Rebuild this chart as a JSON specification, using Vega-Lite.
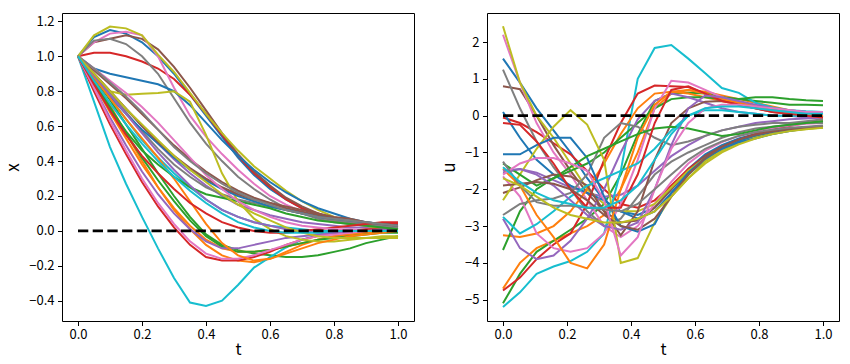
{
"$schema": "https://vega.github.io/schema/vega-lite/v6.json",
"padding": {"left": 4, "top": 12, "right": 5, "bottom": 0},
"spacing": 25,
"config": {
 "view": {"stroke": "black", "strokeWidth": 1},
 "axis": {"grid": false, "domain": false, "ticks": true, "tickColor": "black", "tickSize": 4.5, "labelColor": "black", "labelFont": "Noto Sans CJK SC", "labelFontSize": 13, "labelPadding": 3.5, "labelOverlap": false, "titleFont": "Noto Sans CJK SC", "titleFontSize": 17, "titleFontWeight": "normal", "titleColor": "black", "titlePadding": 6},
 "axisX": {"titlePadding": 0, "labelPadding": 2.5, "titleFontSize": 16}
},
"datasets": {
"zero": [{"t":0,"v":0},{"t":1,"v":0}],
"xs": [
{"s":0,"t":0,"v":1},{"s":0,"t":0.05,"v":1.11},{"s":0,"t":0.1,"v":1.15},{"s":0,"t":0.15,"v":1.13},{"s":0,"t":0.2,"v":1.08},{"s":0,"t":0.25,"v":1.0},{"s":0,"t":0.3,"v":0.9},{"s":0,"t":0.35,"v":0.78},{"s":0,"t":0.4,"v":0.66},{"s":0,"t":0.45,"v":0.54},{"s":0,"t":0.5,"v":0.42},{"s":0,"t":0.55,"v":0.32},{"s":0,"t":0.6,"v":0.24},{"s":0,"t":0.65,"v":0.18},{"s":0,"t":0.7,"v":0.13},{"s":0,"t":0.75,"v":0.09},{"s":0,"t":0.8,"v":0.07},{"s":0,"t":0.85,"v":0.05},{"s":0,"t":0.9,"v":0.03},{"s":0,"t":0.95,"v":0.02},{"s":0,"t":1,"v":0.01},
{"s":1,"t":0,"v":1},{"s":1,"t":0.05,"v":0.88},{"s":1,"t":0.1,"v":0.72},{"s":1,"t":0.15,"v":0.56},{"s":1,"t":0.2,"v":0.4},{"s":1,"t":0.25,"v":0.25},{"s":1,"t":0.3,"v":0.12},{"s":1,"t":0.35,"v":0.01},{"s":1,"t":0.4,"v":-0.08},{"s":1,"t":0.45,"v":-0.14},{"s":1,"t":0.5,"v":-0.17},{"s":1,"t":0.55,"v":-0.18},{"s":1,"t":0.6,"v":-0.16},{"s":1,"t":0.65,"v":-0.12},{"s":1,"t":0.7,"v":-0.08},{"s":1,"t":0.75,"v":-0.05},{"s":1,"t":0.8,"v":-0.03},{"s":1,"t":0.85,"v":-0.02},{"s":1,"t":0.9,"v":-0.01},{"s":1,"t":0.95,"v":0.0},{"s":1,"t":1,"v":0.01},
{"s":2,"t":0,"v":1},{"s":2,"t":0.05,"v":0.88},{"s":2,"t":0.1,"v":0.75},{"s":2,"t":0.15,"v":0.61},{"s":2,"t":0.2,"v":0.47},{"s":2,"t":0.25,"v":0.33},{"s":2,"t":0.3,"v":0.2},{"s":2,"t":0.35,"v":0.08},{"s":2,"t":0.4,"v":-0.02},{"s":2,"t":0.45,"v":-0.08},{"s":2,"t":0.5,"v":-0.11},{"s":2,"t":0.55,"v":-0.13},{"s":2,"t":0.6,"v":-0.14},{"s":2,"t":0.65,"v":-0.15},{"s":2,"t":0.7,"v":-0.15},{"s":2,"t":0.75,"v":-0.14},{"s":2,"t":0.8,"v":-0.12},{"s":2,"t":0.85,"v":-0.1},{"s":2,"t":0.9,"v":-0.07},{"s":2,"t":0.95,"v":-0.05},{"s":2,"t":1,"v":-0.03},
{"s":3,"t":0,"v":1},{"s":3,"t":0.05,"v":1.02},{"s":3,"t":0.1,"v":1.02},{"s":3,"t":0.15,"v":1.0},{"s":3,"t":0.2,"v":0.97},{"s":3,"t":0.25,"v":0.93},{"s":3,"t":0.3,"v":0.87},{"s":3,"t":0.35,"v":0.78},{"s":3,"t":0.4,"v":0.67},{"s":3,"t":0.45,"v":0.55},{"s":3,"t":0.5,"v":0.43},{"s":3,"t":0.55,"v":0.33},{"s":3,"t":0.6,"v":0.25},{"s":3,"t":0.65,"v":0.18},{"s":3,"t":0.7,"v":0.13},{"s":3,"t":0.75,"v":0.1},{"s":3,"t":0.8,"v":0.07},{"s":3,"t":0.85,"v":0.05},{"s":3,"t":0.9,"v":0.04},{"s":3,"t":0.95,"v":0.04},{"s":3,"t":1,"v":0.04},
{"s":4,"t":0,"v":1},{"s":4,"t":0.05,"v":0.9},{"s":4,"t":0.1,"v":0.8},{"s":4,"t":0.15,"v":0.7},{"s":4,"t":0.2,"v":0.6},{"s":4,"t":0.25,"v":0.5},{"s":4,"t":0.3,"v":0.41},{"s":4,"t":0.35,"v":0.33},{"s":4,"t":0.4,"v":0.26},{"s":4,"t":0.45,"v":0.2},{"s":4,"t":0.5,"v":0.15},{"s":4,"t":0.55,"v":0.12},{"s":4,"t":0.6,"v":0.09},{"s":4,"t":0.65,"v":0.07},{"s":4,"t":0.7,"v":0.05},{"s":4,"t":0.75,"v":0.04},{"s":4,"t":0.8,"v":0.03},{"s":4,"t":0.85,"v":0.02},{"s":4,"t":0.9,"v":0.02},{"s":4,"t":0.95,"v":0.01},{"s":4,"t":1,"v":0.01},
{"s":5,"t":0,"v":1},{"s":5,"t":0.05,"v":1.08},{"s":5,"t":0.1,"v":1.1},{"s":5,"t":0.15,"v":1.12},{"s":5,"t":0.2,"v":1.1},{"s":5,"t":0.25,"v":1.04},{"s":5,"t":0.3,"v":0.94},{"s":5,"t":0.35,"v":0.82},{"s":5,"t":0.4,"v":0.69},{"s":5,"t":0.45,"v":0.56},{"s":5,"t":0.5,"v":0.44},{"s":5,"t":0.55,"v":0.34},{"s":5,"t":0.6,"v":0.26},{"s":5,"t":0.65,"v":0.19},{"s":5,"t":0.7,"v":0.14},{"s":5,"t":0.75,"v":0.1},{"s":5,"t":0.8,"v":0.07},{"s":5,"t":0.85,"v":0.05},{"s":5,"t":0.9,"v":0.04},{"s":5,"t":0.95,"v":0.03},{"s":5,"t":1,"v":0.02},
{"s":6,"t":0,"v":1},{"s":6,"t":0.05,"v":1.08},{"s":6,"t":0.1,"v":1.13},{"s":6,"t":0.15,"v":1.14},{"s":6,"t":0.2,"v":1.12},{"s":6,"t":0.25,"v":1.0},{"s":6,"t":0.3,"v":0.82},{"s":6,"t":0.35,"v":0.66},{"s":6,"t":0.4,"v":0.54},{"s":6,"t":0.45,"v":0.44},{"s":6,"t":0.5,"v":0.35},{"s":6,"t":0.55,"v":0.27},{"s":6,"t":0.6,"v":0.2},{"s":6,"t":0.65,"v":0.15},{"s":6,"t":0.7,"v":0.11},{"s":6,"t":0.75,"v":0.08},{"s":6,"t":0.8,"v":0.06},{"s":6,"t":0.85,"v":0.04},{"s":6,"t":0.9,"v":0.03},{"s":6,"t":0.95,"v":0.02},{"s":6,"t":1,"v":0.02},
{"s":7,"t":0,"v":1},{"s":7,"t":0.05,"v":1.09},{"s":7,"t":0.1,"v":1.1},{"s":7,"t":0.15,"v":1.07},{"s":7,"t":0.2,"v":1.0},{"s":7,"t":0.25,"v":0.9},{"s":7,"t":0.3,"v":0.76},{"s":7,"t":0.35,"v":0.62},{"s":7,"t":0.4,"v":0.5},{"s":7,"t":0.45,"v":0.4},{"s":7,"t":0.5,"v":0.31},{"s":7,"t":0.55,"v":0.24},{"s":7,"t":0.6,"v":0.18},{"s":7,"t":0.65,"v":0.13},{"s":7,"t":0.7,"v":0.1},{"s":7,"t":0.75,"v":0.07},{"s":7,"t":0.8,"v":0.05},{"s":7,"t":0.85,"v":0.04},{"s":7,"t":0.9,"v":0.03},{"s":7,"t":0.95,"v":0.02},{"s":7,"t":1,"v":0.02},
{"s":8,"t":0,"v":1},{"s":8,"t":0.05,"v":1.12},{"s":8,"t":0.1,"v":1.17},{"s":8,"t":0.15,"v":1.16},{"s":8,"t":0.2,"v":1.12},{"s":8,"t":0.25,"v":1.01},{"s":8,"t":0.3,"v":0.91},{"s":8,"t":0.35,"v":0.79},{"s":8,"t":0.4,"v":0.67},{"s":8,"t":0.45,"v":0.56},{"s":8,"t":0.5,"v":0.46},{"s":8,"t":0.55,"v":0.37},{"s":8,"t":0.6,"v":0.3},{"s":8,"t":0.65,"v":0.23},{"s":8,"t":0.7,"v":0.17},{"s":8,"t":0.75,"v":0.12},{"s":8,"t":0.8,"v":0.08},{"s":8,"t":0.85,"v":0.05},{"s":8,"t":0.9,"v":0.03},{"s":8,"t":0.95,"v":0.01},{"s":8,"t":1,"v":0.0},
{"s":9,"t":0,"v":1},{"s":9,"t":0.05,"v":0.74},{"s":9,"t":0.1,"v":0.48},{"s":9,"t":0.15,"v":0.27},{"s":9,"t":0.2,"v":0.08},{"s":9,"t":0.25,"v":-0.1},{"s":9,"t":0.3,"v":-0.27},{"s":9,"t":0.35,"v":-0.41},{"s":9,"t":0.4,"v":-0.43},{"s":9,"t":0.45,"v":-0.4},{"s":9,"t":0.5,"v":-0.31},{"s":9,"t":0.55,"v":-0.21},{"s":9,"t":0.6,"v":-0.15},{"s":9,"t":0.65,"v":-0.095},{"s":9,"t":0.7,"v":-0.05},{"s":9,"t":0.75,"v":-0.025},{"s":9,"t":0.8,"v":-0.01},{"s":9,"t":0.85,"v":0.0},{"s":9,"t":0.9,"v":0.0},{"s":9,"t":0.95,"v":0.0},{"s":9,"t":1,"v":0.0},
{"s":10,"t":0,"v":1},{"s":10,"t":0.05,"v":0.93},{"s":10,"t":0.1,"v":0.9},{"s":10,"t":0.15,"v":0.88},{"s":10,"t":0.2,"v":0.86},{"s":10,"t":0.25,"v":0.84},{"s":10,"t":0.3,"v":0.8},{"s":10,"t":0.35,"v":0.72},{"s":10,"t":0.4,"v":0.62},{"s":10,"t":0.45,"v":0.52},{"s":10,"t":0.5,"v":0.43},{"s":10,"t":0.55,"v":0.35},{"s":10,"t":0.6,"v":0.28},{"s":10,"t":0.65,"v":0.22},{"s":10,"t":0.7,"v":0.17},{"s":10,"t":0.75,"v":0.13},{"s":10,"t":0.8,"v":0.1},{"s":10,"t":0.85,"v":0.07},{"s":10,"t":0.9,"v":0.05},{"s":10,"t":0.95,"v":0.04},{"s":10,"t":1,"v":0.03},
{"s":11,"t":0,"v":1},{"s":11,"t":0.05,"v":0.84},{"s":11,"t":0.1,"v":0.68},{"s":11,"t":0.15,"v":0.53},{"s":11,"t":0.2,"v":0.38},{"s":11,"t":0.25,"v":0.25},{"s":11,"t":0.3,"v":0.13},{"s":11,"t":0.35,"v":0.03},{"s":11,"t":0.4,"v":-0.05},{"s":11,"t":0.45,"v":-0.1},{"s":11,"t":0.5,"v":-0.12},{"s":11,"t":0.55,"v":-0.12},{"s":11,"t":0.6,"v":-0.11},{"s":11,"t":0.65,"v":-0.09},{"s":11,"t":0.7,"v":-0.07},{"s":11,"t":0.75,"v":-0.05},{"s":11,"t":0.8,"v":-0.03},{"s":11,"t":0.85,"v":-0.02},{"s":11,"t":0.9,"v":-0.01},{"s":11,"t":0.95,"v":0.0},{"s":11,"t":1,"v":0.0},
{"s":12,"t":0,"v":1},{"s":12,"t":0.05,"v":0.86},{"s":12,"t":0.1,"v":0.71},{"s":12,"t":0.15,"v":0.56},{"s":12,"t":0.2,"v":0.42},{"s":12,"t":0.25,"v":0.29},{"s":12,"t":0.3,"v":0.17},{"s":12,"t":0.35,"v":0.06},{"s":12,"t":0.4,"v":-0.03},{"s":12,"t":0.45,"v":-0.09},{"s":12,"t":0.5,"v":-0.12},{"s":12,"t":0.55,"v":-0.12},{"s":12,"t":0.6,"v":-0.11},{"s":12,"t":0.65,"v":-0.09},{"s":12,"t":0.7,"v":-0.07},{"s":12,"t":0.75,"v":-0.05},{"s":12,"t":0.8,"v":-0.04},{"s":12,"t":0.85,"v":-0.03},{"s":12,"t":0.9,"v":-0.02},{"s":12,"t":0.95,"v":-0.01},{"s":12,"t":1,"v":-0.01},
{"s":13,"t":0,"v":1},{"s":13,"t":0.05,"v":0.8},{"s":13,"t":0.1,"v":0.61},{"s":13,"t":0.15,"v":0.44},{"s":13,"t":0.2,"v":0.28},{"s":13,"t":0.25,"v":0.14},{"s":13,"t":0.3,"v":0.02},{"s":13,"t":0.35,"v":-0.08},{"s":13,"t":0.4,"v":-0.15},{"s":13,"t":0.45,"v":-0.17},{"s":13,"t":0.5,"v":-0.17},{"s":13,"t":0.55,"v":-0.15},{"s":13,"t":0.6,"v":-0.12},{"s":13,"t":0.65,"v":-0.08},{"s":13,"t":0.7,"v":-0.05},{"s":13,"t":0.75,"v":-0.03},{"s":13,"t":0.8,"v":-0.01},{"s":13,"t":0.85,"v":0.0},{"s":13,"t":0.9,"v":0.01},{"s":13,"t":0.95,"v":0.01},{"s":13,"t":1,"v":0.02},
{"s":14,"t":0,"v":1},{"s":14,"t":0.05,"v":0.82},{"s":14,"t":0.1,"v":0.65},{"s":14,"t":0.15,"v":0.49},{"s":14,"t":0.2,"v":0.34},{"s":14,"t":0.25,"v":0.21},{"s":14,"t":0.3,"v":0.1},{"s":14,"t":0.35,"v":0.01},{"s":14,"t":0.4,"v":-0.06},{"s":14,"t":0.45,"v":-0.1},{"s":14,"t":0.5,"v":-0.1},{"s":14,"t":0.55,"v":-0.08},{"s":14,"t":0.6,"v":-0.06},{"s":14,"t":0.65,"v":-0.04},{"s":14,"t":0.7,"v":-0.03},{"s":14,"t":0.75,"v":-0.02},{"s":14,"t":0.8,"v":-0.01},{"s":14,"t":0.85,"v":0.0},{"s":14,"t":0.9,"v":0.0},{"s":14,"t":0.95,"v":0.01},{"s":14,"t":1,"v":0.01},
{"s":15,"t":0,"v":1},{"s":15,"t":0.05,"v":0.92},{"s":15,"t":0.1,"v":0.84},{"s":15,"t":0.15,"v":0.76},{"s":15,"t":0.2,"v":0.67},{"s":15,"t":0.25,"v":0.58},{"s":15,"t":0.3,"v":0.49},{"s":15,"t":0.35,"v":0.41},{"s":15,"t":0.4,"v":0.34},{"s":15,"t":0.45,"v":0.28},{"s":15,"t":0.5,"v":0.23},{"s":15,"t":0.55,"v":0.19},{"s":15,"t":0.6,"v":0.16},{"s":15,"t":0.65,"v":0.13},{"s":15,"t":0.7,"v":0.11},{"s":15,"t":0.75,"v":0.09},{"s":15,"t":0.8,"v":0.07},{"s":15,"t":0.85,"v":0.05},{"s":15,"t":0.9,"v":0.04},{"s":15,"t":0.95,"v":0.03},{"s":15,"t":1,"v":0.02},
{"s":16,"t":0,"v":1},{"s":16,"t":0.05,"v":0.82},{"s":16,"t":0.1,"v":0.63},{"s":16,"t":0.15,"v":0.46},{"s":16,"t":0.2,"v":0.3},{"s":16,"t":0.25,"v":0.16},{"s":16,"t":0.3,"v":0.04},{"s":16,"t":0.35,"v":-0.06},{"s":16,"t":0.4,"v":-0.13},{"s":16,"t":0.45,"v":-0.16},{"s":16,"t":0.5,"v":-0.16},{"s":16,"t":0.55,"v":-0.14},{"s":16,"t":0.6,"v":-0.11},{"s":16,"t":0.65,"v":-0.08},{"s":16,"t":0.7,"v":-0.05},{"s":16,"t":0.75,"v":-0.03},{"s":16,"t":0.8,"v":-0.02},{"s":16,"t":0.85,"v":-0.01},{"s":16,"t":0.9,"v":0.0},{"s":16,"t":0.95,"v":0.0},{"s":16,"t":1,"v":0.0},
{"s":17,"t":0,"v":1},{"s":17,"t":0.05,"v":0.9},{"s":17,"t":0.1,"v":0.79},{"s":17,"t":0.15,"v":0.68},{"s":17,"t":0.2,"v":0.57},{"s":17,"t":0.25,"v":0.47},{"s":17,"t":0.3,"v":0.38},{"s":17,"t":0.35,"v":0.31},{"s":17,"t":0.4,"v":0.25},{"s":17,"t":0.45,"v":0.21},{"s":17,"t":0.5,"v":0.18},{"s":17,"t":0.55,"v":0.16},{"s":17,"t":0.6,"v":0.14},{"s":17,"t":0.65,"v":0.12},{"s":17,"t":0.7,"v":0.1},{"s":17,"t":0.75,"v":0.08},{"s":17,"t":0.8,"v":0.06},{"s":17,"t":0.85,"v":0.05},{"s":17,"t":0.9,"v":0.04},{"s":17,"t":0.95,"v":0.03},{"s":17,"t":1,"v":0.02},
{"s":18,"t":0,"v":1},{"s":18,"t":0.05,"v":0.9},{"s":18,"t":0.1,"v":0.8},{"s":18,"t":0.15,"v":0.78},{"s":18,"t":0.2,"v":0.785},{"s":18,"t":0.25,"v":0.79},{"s":18,"t":0.3,"v":0.8},{"s":18,"t":0.35,"v":0.74},{"s":18,"t":0.4,"v":0.55},{"s":18,"t":0.45,"v":0.33},{"s":18,"t":0.5,"v":0.17},{"s":18,"t":0.55,"v":0.07},{"s":18,"t":0.6,"v":0.01},{"s":18,"t":0.65,"v":-0.03},{"s":18,"t":0.7,"v":-0.05},{"s":18,"t":0.75,"v":-0.06},{"s":18,"t":0.8,"v":-0.06},{"s":18,"t":0.85,"v":-0.05},{"s":18,"t":0.9,"v":-0.04},{"s":18,"t":0.95,"v":-0.03},{"s":18,"t":1,"v":-0.03},
{"s":19,"t":0,"v":1},{"s":19,"t":0.05,"v":0.88},{"s":19,"t":0.1,"v":0.76},{"s":19,"t":0.15,"v":0.64},{"s":19,"t":0.2,"v":0.52},{"s":19,"t":0.25,"v":0.42},{"s":19,"t":0.3,"v":0.33},{"s":19,"t":0.35,"v":0.25},{"s":19,"t":0.4,"v":0.18},{"s":19,"t":0.45,"v":0.12},{"s":19,"t":0.5,"v":0.08},{"s":19,"t":0.55,"v":0.05},{"s":19,"t":0.6,"v":0.03},{"s":19,"t":0.65,"v":0.02},{"s":19,"t":0.7,"v":0.01},{"s":19,"t":0.75,"v":0.0},{"s":19,"t":0.8,"v":0.0},{"s":19,"t":0.85,"v":0.0},{"s":19,"t":0.9,"v":0.0},{"s":19,"t":0.95,"v":0.0},{"s":19,"t":1,"v":0.0},
{"s":20,"t":0,"v":1},{"s":20,"t":0.05,"v":0.88},{"s":20,"t":0.1,"v":0.77},{"s":20,"t":0.15,"v":0.67},{"s":20,"t":0.2,"v":0.58},{"s":20,"t":0.25,"v":0.5},{"s":20,"t":0.3,"v":0.42},{"s":20,"t":0.35,"v":0.35},{"s":20,"t":0.4,"v":0.29},{"s":20,"t":0.45,"v":0.24},{"s":20,"t":0.5,"v":0.2},{"s":20,"t":0.55,"v":0.17},{"s":20,"t":0.6,"v":0.14},{"s":20,"t":0.65,"v":0.12},{"s":20,"t":0.7,"v":0.1},{"s":20,"t":0.75,"v":0.08},{"s":20,"t":0.8,"v":0.07},{"s":20,"t":0.85,"v":0.06},{"s":20,"t":0.9,"v":0.05},{"s":20,"t":0.95,"v":0.04},{"s":20,"t":1,"v":0.03},
{"s":21,"t":0,"v":1},{"s":21,"t":0.05,"v":0.88},{"s":21,"t":0.1,"v":0.76},{"s":21,"t":0.15,"v":0.64},{"s":21,"t":0.2,"v":0.53},{"s":21,"t":0.25,"v":0.42},{"s":21,"t":0.3,"v":0.3},{"s":21,"t":0.35,"v":0.17},{"s":21,"t":0.4,"v":0.04},{"s":21,"t":0.45,"v":-0.07},{"s":21,"t":0.5,"v":-0.14},{"s":21,"t":0.55,"v":-0.17},{"s":21,"t":0.6,"v":-0.16},{"s":21,"t":0.65,"v":-0.13},{"s":21,"t":0.7,"v":-0.1},{"s":21,"t":0.75,"v":-0.07},{"s":21,"t":0.8,"v":-0.05},{"s":21,"t":0.85,"v":-0.03},{"s":21,"t":0.9,"v":-0.02},{"s":21,"t":0.95,"v":-0.01},{"s":21,"t":1,"v":0.0},
{"s":22,"t":0,"v":1},{"s":22,"t":0.05,"v":0.85},{"s":22,"t":0.1,"v":0.7},{"s":22,"t":0.15,"v":0.57},{"s":22,"t":0.2,"v":0.46},{"s":22,"t":0.25,"v":0.38},{"s":22,"t":0.3,"v":0.31},{"s":22,"t":0.35,"v":0.25},{"s":22,"t":0.4,"v":0.21},{"s":22,"t":0.45,"v":0.19},{"s":22,"t":0.5,"v":0.17},{"s":22,"t":0.55,"v":0.15},{"s":22,"t":0.6,"v":0.13},{"s":22,"t":0.65,"v":0.1},{"s":22,"t":0.7,"v":0.08},{"s":22,"t":0.75,"v":0.06},{"s":22,"t":0.8,"v":0.05},{"s":22,"t":0.85,"v":0.04},{"s":22,"t":0.9,"v":0.03},{"s":22,"t":0.95,"v":0.02},{"s":22,"t":1,"v":0.01},
{"s":23,"t":0,"v":1},{"s":23,"t":0.05,"v":0.84},{"s":23,"t":0.1,"v":0.69},{"s":23,"t":0.15,"v":0.55},{"s":23,"t":0.2,"v":0.43},{"s":23,"t":0.25,"v":0.33},{"s":23,"t":0.3,"v":0.24},{"s":23,"t":0.35,"v":0.16},{"s":23,"t":0.4,"v":0.1},{"s":23,"t":0.45,"v":0.05},{"s":23,"t":0.5,"v":0.02},{"s":23,"t":0.55,"v":0.0},{"s":23,"t":0.6,"v":-0.01},{"s":23,"t":0.65,"v":-0.01},{"s":23,"t":0.7,"v":0.0},{"s":23,"t":0.75,"v":0.01},{"s":23,"t":0.8,"v":0.02},{"s":23,"t":0.85,"v":0.03},{"s":23,"t":0.9,"v":0.04},{"s":23,"t":0.95,"v":0.05},{"s":23,"t":1,"v":0.05},
{"s":24,"t":0,"v":1},{"s":24,"t":0.05,"v":0.89},{"s":24,"t":0.1,"v":0.78},{"s":24,"t":0.15,"v":0.67},{"s":24,"t":0.2,"v":0.56},{"s":24,"t":0.25,"v":0.45},{"s":24,"t":0.3,"v":0.35},{"s":24,"t":0.35,"v":0.26},{"s":24,"t":0.4,"v":0.18},{"s":24,"t":0.45,"v":0.12},{"s":24,"t":0.5,"v":0.08},{"s":24,"t":0.55,"v":0.05},{"s":24,"t":0.6,"v":0.03},{"s":24,"t":0.65,"v":0.01},{"s":24,"t":0.7,"v":0.0},{"s":24,"t":0.75,"v":-0.01},{"s":24,"t":0.8,"v":-0.01},{"s":24,"t":0.85,"v":0.0},{"s":24,"t":0.9,"v":0.0},{"s":24,"t":0.95,"v":0.0},{"s":24,"t":1,"v":0.0},
{"s":25,"t":0,"v":1},{"s":25,"t":0.05,"v":0.9},{"s":25,"t":0.1,"v":0.8},{"s":25,"t":0.15,"v":0.7},{"s":25,"t":0.2,"v":0.6},{"s":25,"t":0.25,"v":0.51},{"s":25,"t":0.3,"v":0.43},{"s":25,"t":0.35,"v":0.36},{"s":25,"t":0.4,"v":0.3},{"s":25,"t":0.45,"v":0.25},{"s":25,"t":0.5,"v":0.21},{"s":25,"t":0.55,"v":0.18},{"s":25,"t":0.6,"v":0.16},{"s":25,"t":0.65,"v":0.14},{"s":25,"t":0.7,"v":0.12},{"s":25,"t":0.75,"v":0.1},{"s":25,"t":0.8,"v":0.08},{"s":25,"t":0.85,"v":0.07},{"s":25,"t":0.9,"v":0.05},{"s":25,"t":0.95,"v":0.04},{"s":25,"t":1,"v":0.03},
{"s":26,"t":0,"v":1},{"s":26,"t":0.05,"v":0.93},{"s":26,"t":0.1,"v":0.86},{"s":26,"t":0.15,"v":0.79},{"s":26,"t":0.2,"v":0.71},{"s":26,"t":0.25,"v":0.62},{"s":26,"t":0.3,"v":0.52},{"s":26,"t":0.35,"v":0.42},{"s":26,"t":0.4,"v":0.32},{"s":26,"t":0.45,"v":0.24},{"s":26,"t":0.5,"v":0.17},{"s":26,"t":0.55,"v":0.12},{"s":26,"t":0.6,"v":0.08},{"s":26,"t":0.65,"v":0.05},{"s":26,"t":0.7,"v":0.03},{"s":26,"t":0.75,"v":0.02},{"s":26,"t":0.8,"v":0.01},{"s":26,"t":0.85,"v":0.01},{"s":26,"t":0.9,"v":0.0},{"s":26,"t":0.95,"v":0.0},{"s":26,"t":1,"v":0.0},
{"s":27,"t":0,"v":1},{"s":27,"t":0.05,"v":0.93},{"s":27,"t":0.1,"v":0.85},{"s":27,"t":0.15,"v":0.77},{"s":27,"t":0.2,"v":0.68},{"s":27,"t":0.25,"v":0.58},{"s":27,"t":0.3,"v":0.48},{"s":27,"t":0.35,"v":0.4},{"s":27,"t":0.4,"v":0.33},{"s":27,"t":0.45,"v":0.27},{"s":27,"t":0.5,"v":0.22},{"s":27,"t":0.55,"v":0.18},{"s":27,"t":0.6,"v":0.15},{"s":27,"t":0.65,"v":0.12},{"s":27,"t":0.7,"v":0.1},{"s":27,"t":0.75,"v":0.08},{"s":27,"t":0.8,"v":0.07},{"s":27,"t":0.85,"v":0.06},{"s":27,"t":0.9,"v":0.05},{"s":27,"t":0.95,"v":0.04},{"s":27,"t":1,"v":0.03},
{"s":28,"t":0,"v":1},{"s":28,"t":0.05,"v":0.9},{"s":28,"t":0.1,"v":0.8},{"s":28,"t":0.15,"v":0.7},{"s":28,"t":0.2,"v":0.61},{"s":28,"t":0.25,"v":0.52},{"s":28,"t":0.3,"v":0.43},{"s":28,"t":0.35,"v":0.35},{"s":28,"t":0.4,"v":0.28},{"s":28,"t":0.45,"v":0.21},{"s":28,"t":0.5,"v":0.15},{"s":28,"t":0.55,"v":0.1},{"s":28,"t":0.6,"v":0.06},{"s":28,"t":0.65,"v":0.02},{"s":28,"t":0.7,"v":-0.01},{"s":28,"t":0.75,"v":-0.03},{"s":28,"t":0.8,"v":-0.04},{"s":28,"t":0.85,"v":-0.04},{"s":28,"t":0.9,"v":-0.04},{"s":28,"t":0.95,"v":-0.04},{"s":28,"t":1,"v":-0.04},
{"s":29,"t":0,"v":1},{"s":29,"t":0.05,"v":0.86},{"s":29,"t":0.1,"v":0.73},{"s":29,"t":0.15,"v":0.61},{"s":29,"t":0.2,"v":0.5},{"s":29,"t":0.25,"v":0.4},{"s":29,"t":0.3,"v":0.31},{"s":29,"t":0.35,"v":0.23},{"s":29,"t":0.4,"v":0.16},{"s":29,"t":0.45,"v":0.1},{"s":29,"t":0.5,"v":0.05},{"s":29,"t":0.55,"v":0.02},{"s":29,"t":0.6,"v":0.0},{"s":29,"t":0.65,"v":-0.01},{"s":29,"t":0.7,"v":-0.01},{"s":29,"t":0.75,"v":-0.01},{"s":29,"t":0.8,"v":0.0},{"s":29,"t":0.85,"v":0.0},{"s":29,"t":0.9,"v":0.0},{"s":29,"t":0.95,"v":0.0},{"s":29,"t":1,"v":0.0}
],
"us": [
{"s":0,"t":0,"v":1.55},{"s":0,"t":0.053,"v":0.9},{"s":0,"t":0.105,"v":0.2},{"s":0,"t":0.158,"v":-0.4},{"s":0,"t":0.211,"v":-1.0},{"s":0,"t":0.263,"v":-1.7},{"s":0,"t":0.316,"v":-2.3},{"s":0,"t":0.368,"v":-2.6},{"s":0,"t":0.421,"v":-2.7},{"s":0,"t":0.474,"v":-2.5},{"s":0,"t":0.526,"v":-2.0},{"s":0,"t":0.579,"v":-1.45},{"s":0,"t":0.632,"v":-1.05},{"s":0,"t":0.684,"v":-0.8},{"s":0,"t":0.737,"v":-0.62},{"s":0,"t":0.789,"v":-0.5},{"s":0,"t":0.842,"v":-0.42},{"s":0,"t":0.895,"v":-0.36},{"s":0,"t":0.947,"v":-0.32},{"s":0,"t":1,"v":-0.28},
{"s":1,"t":0,"v":-4.7},{"s":1,"t":0.053,"v":-4.0},{"s":1,"t":0.105,"v":-3.6},{"s":1,"t":0.158,"v":-3.4},{"s":1,"t":0.211,"v":-3.2},{"s":1,"t":0.263,"v":-3.0},{"s":1,"t":0.316,"v":-2.7},{"s":1,"t":0.368,"v":-2.0},{"s":1,"t":0.421,"v":-1.0},{"s":1,"t":0.474,"v":0.2},{"s":1,"t":0.526,"v":0.6},{"s":1,"t":0.579,"v":0.7},{"s":1,"t":0.632,"v":0.65},{"s":1,"t":0.684,"v":0.55},{"s":1,"t":0.737,"v":0.45},{"s":1,"t":0.789,"v":0.35},{"s":1,"t":0.842,"v":0.25},{"s":1,"t":0.895,"v":0.15},{"s":1,"t":0.947,"v":0.1},{"s":1,"t":1,"v":0.05},
{"s":2,"t":0,"v":-5.1},{"s":2,"t":0.053,"v":-4.3},{"s":2,"t":0.105,"v":-3.7},{"s":2,"t":0.158,"v":-3.4},{"s":2,"t":0.211,"v":-3.1},{"s":2,"t":0.263,"v":-2.8},{"s":2,"t":0.316,"v":-2.4},{"s":2,"t":0.368,"v":-1.6},{"s":2,"t":0.421,"v":-0.5},{"s":2,"t":0.474,"v":0.4},{"s":2,"t":0.526,"v":0.6},{"s":2,"t":0.579,"v":0.62},{"s":2,"t":0.632,"v":0.6},{"s":2,"t":0.684,"v":0.5},{"s":2,"t":0.737,"v":0.45},{"s":2,"t":0.789,"v":0.4},{"s":2,"t":0.842,"v":0.35},{"s":2,"t":0.895,"v":0.3},{"s":2,"t":0.947,"v":0.3},{"s":2,"t":1,"v":0.28},
{"s":3,"t":0,"v":-0.05},{"s":3,"t":0.053,"v":-0.2},{"s":3,"t":0.105,"v":-0.45},{"s":3,"t":0.158,"v":-0.75},{"s":3,"t":0.211,"v":-1.05},{"s":3,"t":0.263,"v":-1.5},{"s":3,"t":0.316,"v":-2.0},{"s":3,"t":0.368,"v":-2.4},{"s":3,"t":0.421,"v":-2.5},{"s":3,"t":0.474,"v":-2.3},{"s":3,"t":0.526,"v":-1.9},{"s":3,"t":0.579,"v":-1.45},{"s":3,"t":0.632,"v":-1.1},{"s":3,"t":0.684,"v":-0.85},{"s":3,"t":0.737,"v":-0.65},{"s":3,"t":0.789,"v":-0.5},{"s":3,"t":0.842,"v":-0.38},{"s":3,"t":0.895,"v":-0.28},{"s":3,"t":0.947,"v":-0.2},{"s":3,"t":1,"v":-0.15},
{"s":4,"t":0,"v":-1.55},{"s":4,"t":0.053,"v":-1.45},{"s":4,"t":0.105,"v":-1.55},{"s":4,"t":0.158,"v":-1.75},{"s":4,"t":0.211,"v":-1.95},{"s":4,"t":0.263,"v":-2.1},{"s":4,"t":0.316,"v":-2.2},{"s":4,"t":0.368,"v":-2.15},{"s":4,"t":0.421,"v":-1.9},{"s":4,"t":0.474,"v":-1.5},{"s":4,"t":0.526,"v":-1.1},{"s":4,"t":0.579,"v":-0.8},{"s":4,"t":0.632,"v":-0.55},{"s":4,"t":0.684,"v":-0.4},{"s":4,"t":0.737,"v":-0.3},{"s":4,"t":0.789,"v":-0.2},{"s":4,"t":0.842,"v":-0.15},{"s":4,"t":0.895,"v":-0.1},{"s":4,"t":0.947,"v":-0.08},{"s":4,"t":1,"v":-0.05},
{"s":5,"t":0,"v":0.8},{"s":5,"t":0.053,"v":0.72},{"s":5,"t":0.105,"v":0.0},{"s":5,"t":0.158,"v":-0.8},{"s":5,"t":0.211,"v":-1.5},{"s":5,"t":0.263,"v":-2.1},{"s":5,"t":0.316,"v":-2.6},{"s":5,"t":0.368,"v":-2.9},{"s":5,"t":0.421,"v":-2.85},{"s":5,"t":0.474,"v":-2.5},{"s":5,"t":0.526,"v":-2.0},{"s":5,"t":0.579,"v":-1.5},{"s":5,"t":0.632,"v":-1.1},{"s":5,"t":0.684,"v":-0.85},{"s":5,"t":0.737,"v":-0.65},{"s":5,"t":0.789,"v":-0.52},{"s":5,"t":0.842,"v":-0.45},{"s":5,"t":0.895,"v":-0.38},{"s":5,"t":0.947,"v":-0.33},{"s":5,"t":1,"v":-0.3},
{"s":6,"t":0,"v":2.2},{"s":6,"t":0.053,"v":0.9},{"s":6,"t":0.105,"v":-0.2},{"s":6,"t":0.158,"v":-1.0},{"s":6,"t":0.211,"v":-1.6},{"s":6,"t":0.263,"v":-2.3},{"s":6,"t":0.316,"v":-3.0},{"s":6,"t":0.368,"v":-3.3},{"s":6,"t":0.421,"v":-3.0},{"s":6,"t":0.474,"v":-2.4},{"s":6,"t":0.526,"v":-1.8},{"s":6,"t":0.579,"v":-1.3},{"s":6,"t":0.632,"v":-0.95},{"s":6,"t":0.684,"v":-0.72},{"s":6,"t":0.737,"v":-0.55},{"s":6,"t":0.789,"v":-0.42},{"s":6,"t":0.842,"v":-0.33},{"s":6,"t":0.895,"v":-0.27},{"s":6,"t":0.947,"v":-0.22},{"s":6,"t":1,"v":-0.2},
{"s":7,"t":0,"v":1.25},{"s":7,"t":0.053,"v":0.2},{"s":7,"t":0.105,"v":-0.7},{"s":7,"t":0.158,"v":-1.4},{"s":7,"t":0.211,"v":-2.0},{"s":7,"t":0.263,"v":-2.6},{"s":7,"t":0.316,"v":-3.0},{"s":7,"t":0.368,"v":-2.8},{"s":7,"t":0.421,"v":-2.2},{"s":7,"t":0.474,"v":-1.6},{"s":7,"t":0.526,"v":-1.25},{"s":7,"t":0.579,"v":-1.0},{"s":7,"t":0.632,"v":-0.8},{"s":7,"t":0.684,"v":-0.6},{"s":7,"t":0.737,"v":-0.45},{"s":7,"t":0.789,"v":-0.35},{"s":7,"t":0.842,"v":-0.3},{"s":7,"t":0.895,"v":-0.25},{"s":7,"t":0.947,"v":-0.2},{"s":7,"t":1,"v":-0.2},
{"s":8,"t":0,"v":2.43},{"s":8,"t":0.053,"v":0.9},{"s":8,"t":0.105,"v":0.0},{"s":8,"t":0.158,"v":-0.6},{"s":8,"t":0.211,"v":-1.3},{"s":8,"t":0.263,"v":-2.0},{"s":8,"t":0.316,"v":-2.4},{"s":8,"t":0.368,"v":-2.6},{"s":8,"t":0.421,"v":-2.6},{"s":8,"t":0.474,"v":-2.4},{"s":8,"t":0.526,"v":-1.95},{"s":8,"t":0.579,"v":-1.5},{"s":8,"t":0.632,"v":-1.15},{"s":8,"t":0.684,"v":-0.9},{"s":8,"t":0.737,"v":-0.7},{"s":8,"t":0.789,"v":-0.55},{"s":8,"t":0.842,"v":-0.45},{"s":8,"t":0.895,"v":-0.38},{"s":8,"t":0.947,"v":-0.33},{"s":8,"t":1,"v":-0.28},
{"s":9,"t":0,"v":-5.2},{"s":9,"t":0.053,"v":-4.8},{"s":9,"t":0.105,"v":-4.3},{"s":9,"t":0.158,"v":-4.1},{"s":9,"t":0.211,"v":-3.95},{"s":9,"t":0.263,"v":-3.7},{"s":9,"t":0.316,"v":-3.2},{"s":9,"t":0.368,"v":-1.5},{"s":9,"t":0.421,"v":1.0},{"s":9,"t":0.474,"v":1.84},{"s":9,"t":0.526,"v":1.92},{"s":9,"t":0.579,"v":1.55},{"s":9,"t":0.632,"v":1.15},{"s":9,"t":0.684,"v":0.75},{"s":9,"t":0.737,"v":0.62},{"s":9,"t":0.789,"v":0.35},{"s":9,"t":0.842,"v":0.22},{"s":9,"t":0.895,"v":0.15},{"s":9,"t":0.947,"v":0.12},{"s":9,"t":1,"v":0.1},
{"s":10,"t":0,"v":0.1},{"s":10,"t":0.053,"v":-0.6},{"s":10,"t":0.105,"v":-1.2},{"s":10,"t":0.158,"v":-1.6},{"s":10,"t":0.211,"v":-1.9},{"s":10,"t":0.263,"v":-2.1},{"s":10,"t":0.316,"v":-2.3},{"s":10,"t":0.368,"v":-2.6},{"s":10,"t":0.421,"v":-2.8},{"s":10,"t":0.474,"v":-2.6},{"s":10,"t":0.526,"v":-2.1},{"s":10,"t":0.579,"v":-1.6},{"s":10,"t":0.632,"v":-1.2},{"s":10,"t":0.684,"v":-0.9},{"s":10,"t":0.737,"v":-0.7},{"s":10,"t":0.789,"v":-0.55},{"s":10,"t":0.842,"v":-0.45},{"s":10,"t":0.895,"v":-0.4},{"s":10,"t":0.947,"v":-0.35},{"s":10,"t":1,"v":-0.32},
{"s":11,"t":0,"v":-3.25},{"s":11,"t":0.053,"v":-3.3},{"s":11,"t":0.105,"v":-3.2},{"s":11,"t":0.158,"v":-3.0},{"s":11,"t":0.211,"v":-2.6},{"s":11,"t":0.263,"v":-2.0},{"s":11,"t":0.316,"v":-1.3},{"s":11,"t":0.368,"v":-0.5},{"s":11,"t":0.421,"v":0.2},{"s":11,"t":0.474,"v":0.6},{"s":11,"t":0.526,"v":0.65},{"s":11,"t":0.579,"v":0.6},{"s":11,"t":0.632,"v":0.5},{"s":11,"t":0.684,"v":0.4},{"s":11,"t":0.737,"v":0.3},{"s":11,"t":0.789,"v":0.2},{"s":11,"t":0.842,"v":0.15},{"s":11,"t":0.895,"v":0.1},{"s":11,"t":0.947,"v":0.05},{"s":11,"t":1,"v":0.0},
{"s":12,"t":0,"v":-3.65},{"s":12,"t":0.053,"v":-2.6},{"s":12,"t":0.105,"v":-2.0},{"s":12,"t":0.158,"v":-1.7},{"s":12,"t":0.211,"v":-1.5},{"s":12,"t":0.263,"v":-1.3},{"s":12,"t":0.316,"v":-1.0},{"s":12,"t":0.368,"v":-0.6},{"s":12,"t":0.421,"v":-0.2},{"s":12,"t":0.474,"v":0.2},{"s":12,"t":0.526,"v":0.45},{"s":12,"t":0.579,"v":0.5},{"s":12,"t":0.632,"v":0.5},{"s":12,"t":0.684,"v":0.45},{"s":12,"t":0.737,"v":0.45},{"s":12,"t":0.789,"v":0.5},{"s":12,"t":0.842,"v":0.5},{"s":12,"t":0.895,"v":0.45},{"s":12,"t":0.947,"v":0.42},{"s":12,"t":1,"v":0.4},
{"s":13,"t":0,"v":-4.75},{"s":13,"t":0.053,"v":-4.4},{"s":13,"t":0.105,"v":-3.9},{"s":13,"t":0.158,"v":-3.5},{"s":13,"t":0.211,"v":-3.2},{"s":13,"t":0.263,"v":-2.4},{"s":13,"t":0.316,"v":-1.2},{"s":13,"t":0.368,"v":-0.2},{"s":13,"t":0.421,"v":0.6},{"s":13,"t":0.474,"v":0.82},{"s":13,"t":0.526,"v":0.8},{"s":13,"t":0.579,"v":0.78},{"s":13,"t":0.632,"v":0.6},{"s":13,"t":0.684,"v":0.45},{"s":13,"t":0.737,"v":0.3},{"s":13,"t":0.789,"v":0.2},{"s":13,"t":0.842,"v":0.1},{"s":13,"t":0.895,"v":0.05},{"s":13,"t":0.947,"v":0.0},{"s":13,"t":1,"v":-0.05},
{"s":14,"t":0,"v":-2.8},{"s":14,"t":0.053,"v":-3.6},{"s":14,"t":0.105,"v":-3.9},{"s":14,"t":0.158,"v":-3.8},{"s":14,"t":0.211,"v":-3.4},{"s":14,"t":0.263,"v":-2.8},{"s":14,"t":0.316,"v":-2.0},{"s":14,"t":0.368,"v":-1.0},{"s":14,"t":0.421,"v":-0.1},{"s":14,"t":0.474,"v":0.4},{"s":14,"t":0.526,"v":0.6},{"s":14,"t":0.579,"v":0.5},{"s":14,"t":0.632,"v":0.35},{"s":14,"t":0.684,"v":0.2},{"s":14,"t":0.737,"v":0.1},{"s":14,"t":0.789,"v":0.05},{"s":14,"t":0.842,"v":0.0},{"s":14,"t":0.895,"v":0.0},{"s":14,"t":0.947,"v":-0.05},{"s":14,"t":1,"v":-0.05},
{"s":15,"t":0,"v":-2.1},{"s":15,"t":0.053,"v":-1.95},{"s":15,"t":0.105,"v":-1.75},{"s":15,"t":0.158,"v":-1.6},{"s":15,"t":0.211,"v":-1.65},{"s":15,"t":0.263,"v":-1.9},{"s":15,"t":0.316,"v":-2.6},{"s":15,"t":0.368,"v":-3.25},{"s":15,"t":0.421,"v":-2.6},{"s":15,"t":0.474,"v":-1.2},{"s":15,"t":0.526,"v":-0.2},{"s":15,"t":0.579,"v":0.2},{"s":15,"t":0.632,"v":0.38},{"s":15,"t":0.684,"v":0.4},{"s":15,"t":0.737,"v":0.35},{"s":15,"t":0.789,"v":0.25},{"s":15,"t":0.842,"v":0.18},{"s":15,"t":0.895,"v":0.12},{"s":15,"t":0.947,"v":0.08},{"s":15,"t":1,"v":0.05},
{"s":16,"t":0,"v":-1.65},{"s":16,"t":0.053,"v":-2.2},{"s":16,"t":0.105,"v":-3.2},{"s":16,"t":0.158,"v":-3.6},{"s":16,"t":0.211,"v":-3.7},{"s":16,"t":0.263,"v":-3.6},{"s":16,"t":0.316,"v":-3.2},{"s":16,"t":0.368,"v":-2.4},{"s":16,"t":0.421,"v":-1.2},{"s":16,"t":0.474,"v":0.2},{"s":16,"t":0.526,"v":0.95},{"s":16,"t":0.579,"v":0.9},{"s":16,"t":0.632,"v":0.7},{"s":16,"t":0.684,"v":0.5},{"s":16,"t":0.737,"v":0.35},{"s":16,"t":0.789,"v":0.25},{"s":16,"t":0.842,"v":0.15},{"s":16,"t":0.895,"v":0.05},{"s":16,"t":0.947,"v":0.0},{"s":16,"t":1,"v":-0.05},
{"s":17,"t":0,"v":-2.7},{"s":17,"t":0.053,"v":-2.4},{"s":17,"t":0.105,"v":-2.3},{"s":17,"t":0.158,"v":-2.25},{"s":17,"t":0.211,"v":-2.1},{"s":17,"t":0.263,"v":-1.6},{"s":17,"t":0.316,"v":-0.6},{"s":17,"t":0.368,"v":-0.2},{"s":17,"t":0.421,"v":-0.3},{"s":17,"t":0.474,"v":-0.6},{"s":17,"t":0.526,"v":-0.8},{"s":17,"t":0.579,"v":-0.7},{"s":17,"t":0.632,"v":-0.55},{"s":17,"t":0.684,"v":-0.4},{"s":17,"t":0.737,"v":-0.3},{"s":17,"t":0.789,"v":-0.25},{"s":17,"t":0.842,"v":-0.2},{"s":17,"t":0.895,"v":-0.2},{"s":17,"t":0.947,"v":-0.15},{"s":17,"t":1,"v":-0.1},
{"s":18,"t":0,"v":-2.3},{"s":18,"t":0.053,"v":-1.6},{"s":18,"t":0.105,"v":-0.9},{"s":18,"t":0.158,"v":-0.3},{"s":18,"t":0.211,"v":0.15},{"s":18,"t":0.263,"v":-0.24},{"s":18,"t":0.316,"v":-1.2},{"s":18,"t":0.368,"v":-4.0},{"s":18,"t":0.421,"v":-3.87},{"s":18,"t":0.474,"v":-2.9},{"s":18,"t":0.526,"v":-2.2},{"s":18,"t":0.579,"v":-1.7},{"s":18,"t":0.632,"v":-1.24},{"s":18,"t":0.684,"v":-0.95},{"s":18,"t":0.737,"v":-0.74},{"s":18,"t":0.789,"v":-0.6},{"s":18,"t":0.842,"v":-0.5},{"s":18,"t":0.895,"v":-0.42},{"s":18,"t":0.947,"v":-0.36},{"s":18,"t":1,"v":-0.32},
{"s":19,"t":0,"v":-2.75},{"s":19,"t":0.053,"v":-3.2},{"s":19,"t":0.105,"v":-2.95},{"s":19,"t":0.158,"v":-2.6},{"s":19,"t":0.211,"v":-2.2},{"s":19,"t":0.263,"v":-1.9},{"s":19,"t":0.316,"v":-1.7},{"s":19,"t":0.368,"v":-1.5},{"s":19,"t":0.421,"v":-1.3},{"s":19,"t":0.474,"v":-0.9},{"s":19,"t":0.526,"v":-0.4},{"s":19,"t":0.579,"v":0.0},{"s":19,"t":0.632,"v":0.15},{"s":19,"t":0.684,"v":0.15},{"s":19,"t":0.737,"v":0.1},{"s":19,"t":0.789,"v":0.05},{"s":19,"t":0.842,"v":0.0},{"s":19,"t":0.895,"v":0.0},{"s":19,"t":0.947,"v":0.0},{"s":19,"t":1,"v":0.0},
{"s":20,"t":0,"v":-1.05},{"s":20,"t":0.053,"v":-1.05},{"s":20,"t":0.105,"v":-0.8},{"s":20,"t":0.158,"v":-0.6},{"s":20,"t":0.211,"v":-0.6},{"s":20,"t":0.263,"v":-1.15},{"s":20,"t":0.316,"v":-2.2},{"s":20,"t":0.368,"v":-3.0},{"s":20,"t":0.421,"v":-3.15},{"s":20,"t":0.474,"v":-2.95},{"s":20,"t":0.526,"v":-2.1},{"s":20,"t":0.579,"v":-1.55},{"s":20,"t":0.632,"v":-1.15},{"s":20,"t":0.684,"v":-0.9},{"s":20,"t":0.737,"v":-0.72},{"s":20,"t":0.789,"v":-0.62},{"s":20,"t":0.842,"v":-0.5},{"s":20,"t":0.895,"v":-0.42},{"s":20,"t":0.947,"v":-0.35},{"s":20,"t":1,"v":-0.29},
{"s":21,"t":0,"v":-1.45},{"s":21,"t":0.053,"v":-1.9},{"s":21,"t":0.105,"v":-2.7},{"s":21,"t":0.158,"v":-3.3},{"s":21,"t":0.211,"v":-4.0},{"s":21,"t":0.263,"v":-4.15},{"s":21,"t":0.316,"v":-3.5},{"s":21,"t":0.368,"v":-2.0},{"s":21,"t":0.421,"v":-0.6},{"s":21,"t":0.474,"v":0.3},{"s":21,"t":0.526,"v":0.65},{"s":21,"t":0.579,"v":0.7},{"s":21,"t":0.632,"v":0.6},{"s":21,"t":0.684,"v":0.45},{"s":21,"t":0.737,"v":0.35},{"s":21,"t":0.789,"v":0.25},{"s":21,"t":0.842,"v":0.15},{"s":21,"t":0.895,"v":0.1},{"s":21,"t":0.947,"v":0.05},{"s":21,"t":1,"v":0.0},
{"s":22,"t":0,"v":-1.3},{"s":22,"t":0.053,"v":-1.6},{"s":22,"t":0.105,"v":-1.9},{"s":22,"t":0.158,"v":-1.7},{"s":22,"t":0.211,"v":-1.4},{"s":22,"t":0.263,"v":-1.1},{"s":22,"t":0.316,"v":-0.9},{"s":22,"t":0.368,"v":-0.7},{"s":22,"t":0.421,"v":-0.5},{"s":22,"t":0.474,"v":-0.35},{"s":22,"t":0.526,"v":-0.3},{"s":22,"t":0.579,"v":-0.35},{"s":22,"t":0.632,"v":-0.45},{"s":22,"t":0.684,"v":-0.55},{"s":22,"t":0.737,"v":-0.5},{"s":22,"t":0.789,"v":-0.4},{"s":22,"t":0.842,"v":-0.3},{"s":22,"t":0.895,"v":-0.25},{"s":22,"t":0.947,"v":-0.2},{"s":22,"t":1,"v":-0.15},
{"s":23,"t":0,"v":-0.2},{"s":23,"t":0.053,"v":-0.25},{"s":23,"t":0.105,"v":-0.7},{"s":23,"t":0.158,"v":-1.3},{"s":23,"t":0.211,"v":-2.0},{"s":23,"t":0.263,"v":-2.5},{"s":23,"t":0.316,"v":-2.5},{"s":23,"t":0.368,"v":-2.5},{"s":23,"t":0.421,"v":-1.6},{"s":23,"t":0.474,"v":-0.2},{"s":23,"t":0.526,"v":0.7},{"s":23,"t":0.579,"v":0.8},{"s":23,"t":0.632,"v":0.6},{"s":23,"t":0.684,"v":0.4},{"s":23,"t":0.737,"v":0.3},{"s":23,"t":0.789,"v":0.2},{"s":23,"t":0.842,"v":0.1},{"s":23,"t":0.895,"v":0.05},{"s":23,"t":0.947,"v":0.0},{"s":23,"t":1,"v":-0.05},
{"s":24,"t":0,"v":-1.5},{"s":24,"t":0.053,"v":-1.45},{"s":24,"t":0.105,"v":-1.6},{"s":24,"t":0.158,"v":-1.9},{"s":24,"t":0.211,"v":-2.3},{"s":24,"t":0.263,"v":-2.7},{"s":24,"t":0.316,"v":-3.0},{"s":24,"t":0.368,"v":-3.1},{"s":24,"t":0.421,"v":-2.9},{"s":24,"t":0.474,"v":-2.0},{"s":24,"t":0.526,"v":-0.8},{"s":24,"t":0.579,"v":0.2},{"s":24,"t":0.632,"v":0.55},{"s":24,"t":0.684,"v":0.5},{"s":24,"t":0.737,"v":0.4},{"s":24,"t":0.789,"v":0.3},{"s":24,"t":0.842,"v":0.2},{"s":24,"t":0.895,"v":0.15},{"s":24,"t":0.947,"v":0.1},{"s":24,"t":1,"v":0.05},
{"s":25,"t":0,"v":-1.9},{"s":25,"t":0.053,"v":-1.85},{"s":25,"t":0.105,"v":-1.8},{"s":25,"t":0.158,"v":-1.85},{"s":25,"t":0.211,"v":-2.0},{"s":25,"t":0.263,"v":-2.3},{"s":25,"t":0.316,"v":-2.7},{"s":25,"t":0.368,"v":-3.0},{"s":25,"t":0.421,"v":-3.1},{"s":25,"t":0.474,"v":-2.8},{"s":25,"t":0.526,"v":-2.2},{"s":25,"t":0.579,"v":-1.6},{"s":25,"t":0.632,"v":-1.15},{"s":25,"t":0.684,"v":-0.85},{"s":25,"t":0.737,"v":-0.65},{"s":25,"t":0.789,"v":-0.52},{"s":25,"t":0.842,"v":-0.43},{"s":25,"t":0.895,"v":-0.37},{"s":25,"t":0.947,"v":-0.33},{"s":25,"t":1,"v":-0.3},
{"s":26,"t":0,"v":-1.6},{"s":26,"t":0.053,"v":-1.3},{"s":26,"t":0.105,"v":-1.15},{"s":26,"t":0.158,"v":-1.15},{"s":26,"t":0.211,"v":-1.3},{"s":26,"t":0.263,"v":-1.5},{"s":26,"t":0.316,"v":-2.3},{"s":26,"t":0.368,"v":-3.8},{"s":26,"t":0.421,"v":-3.3},{"s":26,"t":0.474,"v":-2.0},{"s":26,"t":0.526,"v":-0.9},{"s":26,"t":0.579,"v":-0.2},{"s":26,"t":0.632,"v":0.2},{"s":26,"t":0.684,"v":0.3},{"s":26,"t":0.737,"v":0.3},{"s":26,"t":0.789,"v":0.25},{"s":26,"t":0.842,"v":0.2},{"s":26,"t":0.895,"v":0.15},{"s":26,"t":0.947,"v":0.1},{"s":26,"t":1,"v":0.1},
{"s":27,"t":0,"v":-1.25},{"s":27,"t":0.053,"v":-1.9},{"s":27,"t":0.105,"v":-2.35},{"s":27,"t":0.158,"v":-2.45},{"s":27,"t":0.211,"v":-2.45},{"s":27,"t":0.263,"v":-2.5},{"s":27,"t":0.316,"v":-2.55},{"s":27,"t":0.368,"v":-2.6},{"s":27,"t":0.421,"v":-2.4},{"s":27,"t":0.474,"v":-2.0},{"s":27,"t":0.526,"v":-1.6},{"s":27,"t":0.579,"v":-1.2},{"s":27,"t":0.632,"v":-0.9},{"s":27,"t":0.684,"v":-0.7},{"s":27,"t":0.737,"v":-0.55},{"s":27,"t":0.789,"v":-0.45},{"s":27,"t":0.842,"v":-0.38},{"s":27,"t":0.895,"v":-0.33},{"s":27,"t":0.947,"v":-0.3},{"s":27,"t":1,"v":-0.27},
{"s":28,"t":0,"v":-1.7},{"s":28,"t":0.053,"v":-1.9},{"s":28,"t":0.105,"v":-2.2},{"s":28,"t":0.158,"v":-2.5},{"s":28,"t":0.211,"v":-2.7},{"s":28,"t":0.263,"v":-2.8},{"s":28,"t":0.316,"v":-2.9},{"s":28,"t":0.368,"v":-2.9},{"s":28,"t":0.421,"v":-2.8},{"s":28,"t":0.474,"v":-2.6},{"s":28,"t":0.526,"v":-2.2},{"s":28,"t":0.579,"v":-1.7},{"s":28,"t":0.632,"v":-1.3},{"s":28,"t":0.684,"v":-1.0},{"s":28,"t":0.737,"v":-0.78},{"s":28,"t":0.789,"v":-0.62},{"s":28,"t":0.842,"v":-0.5},{"s":28,"t":0.895,"v":-0.42},{"s":28,"t":0.947,"v":-0.37},{"s":28,"t":1,"v":-0.33},
{"s":29,"t":0,"v":-1.4},{"s":29,"t":0.053,"v":-1.8},{"s":29,"t":0.105,"v":-2.1},{"s":29,"t":0.158,"v":-2.3},{"s":29,"t":0.211,"v":-2.4},{"s":29,"t":0.263,"v":-2.5},{"s":29,"t":0.316,"v":-2.5},{"s":29,"t":0.368,"v":-2.3},{"s":29,"t":0.421,"v":-1.9},{"s":29,"t":0.474,"v":-1.2},{"s":29,"t":0.526,"v":-0.5},{"s":29,"t":0.579,"v":0.0},{"s":29,"t":0.632,"v":0.2},{"s":29,"t":0.684,"v":0.25},{"s":29,"t":0.737,"v":0.25},{"s":29,"t":0.789,"v":0.2},{"s":29,"t":0.842,"v":0.15},{"s":29,"t":0.895,"v":0.1},{"s":29,"t":0.947,"v":0.05},{"s":29,"t":1,"v":0.05}
]
},
"hconcat": [
{
 "width": 352, "height": 308,
 "layer": [
  {"data": {"name": "xs"}, "mark": {"type": "line", "strokeWidth": 2},
   "encoding": {
    "x": {"field": "t", "type": "quantitative", "scale": {"domain": [-0.05, 1.05], "nice": false, "zero": false}, "axis": {"values": [0, 0.2, 0.4, 0.6, 0.8, 1], "format": ".1f", "title": "t", "labelOverlap": false}},
    "y": {"field": "v", "type": "quantitative", "scale": {"domain": [-0.516, 1.248], "nice": false, "zero": false}, "axis": {"values": [-0.4, -0.2, 0, 0.2, 0.4, 0.6, 0.8, 1, 1.2], "format": ".1f", "title": "x", "labelOverlap": false}},
    "color": {"field": "s", "type": "nominal", "legend": null, "scale": {"domain": [0,1,2,3,4,5,6,7,8,9,10,11,12,13,14,15,16,17,18,19,20,21,22,23,24,25,26,27,28,29], "range": ["#1f77b4","#ff7f0e","#2ca02c","#d62728","#9467bd","#8c564b","#e377c2","#7f7f7f","#bcbd22","#17becf","#1f77b4","#ff7f0e","#2ca02c","#d62728","#9467bd","#8c564b","#e377c2","#7f7f7f","#bcbd22","#17becf","#1f77b4","#ff7f0e","#2ca02c","#d62728","#9467bd","#8c564b","#e377c2","#7f7f7f","#bcbd22","#17becf"]}}
   }},
  {"data": {"name": "zero"}, "mark": {"type": "line", "color": "black", "strokeWidth": 2.8, "strokeDash": [10.3, 4.4]},
   "encoding": {
    "x": {"field": "t", "type": "quantitative", "scale": {"domain": [-0.05, 1.05], "nice": false, "zero": false}, "axis": {"values": [0, 0.2, 0.4, 0.6, 0.8, 1], "format": ".1f", "title": "t", "labelOverlap": false}},
    "y": {"field": "v", "type": "quantitative", "scale": {"domain": [-0.516, 1.248], "nice": false, "zero": false}, "axis": {"values": [-0.4, -0.2, 0, 0.2, 0.4, 0.6, 0.8, 1, 1.2], "format": ".1f", "title": "x", "labelOverlap": false}}
   }}
 ]
},
{
 "width": 352, "height": 308,
 "layer": [
  {"data": {"name": "us"}, "mark": {"type": "line", "strokeWidth": 2},
   "encoding": {
    "x": {"field": "t", "type": "quantitative", "scale": {"domain": [-0.05, 1.05], "nice": false, "zero": false}, "axis": {"values": [0, 0.2, 0.4, 0.6, 0.8, 1], "format": ".1f", "title": "t", "labelOverlap": false}},
    "y": {"field": "v", "type": "quantitative", "scale": {"domain": [-5.58, 2.79], "nice": false, "zero": false}, "axis": {"values": [-5, -4, -3, -2, -1, 0, 1, 2], "format": "d", "title": "u", "labelOverlap": false}},
    "color": {"field": "s", "type": "nominal", "legend": null, "scale": {"domain": [0,1,2,3,4,5,6,7,8,9,10,11,12,13,14,15,16,17,18,19,20,21,22,23,24,25,26,27,28,29], "range": ["#1f77b4","#ff7f0e","#2ca02c","#d62728","#9467bd","#8c564b","#e377c2","#7f7f7f","#bcbd22","#17becf","#1f77b4","#ff7f0e","#2ca02c","#d62728","#9467bd","#8c564b","#e377c2","#7f7f7f","#bcbd22","#17becf","#1f77b4","#ff7f0e","#2ca02c","#d62728","#9467bd","#8c564b","#e377c2","#7f7f7f","#bcbd22","#17becf"]}}
   }},
  {"data": {"name": "zero"}, "mark": {"type": "line", "color": "black", "strokeWidth": 2.8, "strokeDash": [10.3, 4.4]},
   "encoding": {
    "x": {"field": "t", "type": "quantitative", "scale": {"domain": [-0.05, 1.05], "nice": false, "zero": false}, "axis": {"values": [0, 0.2, 0.4, 0.6, 0.8, 1], "format": ".1f", "title": "t", "labelOverlap": false}},
    "y": {"field": "v", "type": "quantitative", "scale": {"domain": [-5.58, 2.79], "nice": false, "zero": false}, "axis": {"values": [-5, -4, -3, -2, -1, 0, 1, 2], "format": "d", "title": "u", "labelOverlap": false}}
   }}
 ]
}
]
}
